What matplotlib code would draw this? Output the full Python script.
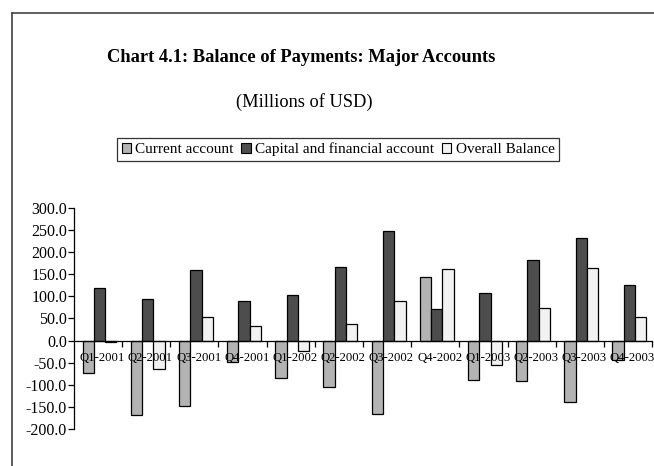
import numpy as np
import matplotlib.pyplot as plt
from matplotlib.lines import Line2D
from matplotlib.patches import Patch

plt.rcParams['font.family'] = 'Liberation Serif'
plt.rcParams['axes.unicode_minus'] = False

quarters = ['Q1-2001', 'Q2-2001', 'Q3-2001', 'Q4-2001', 'Q1-2002', 'Q2-2002',
            'Q3-2002', 'Q4-2002', 'Q1-2003', 'Q2-2003', 'Q3-2003', 'Q4-2003']
current = [-74, -168, -148, -49, -85, -104, -166, 144, -88, -90, -138, -43]
capital = [118, 95, 159, 89, 102, 166, 248, 72, 107, 183, 232, 125]
overall = [-2, -65, 54, 32, -23, 38, 89, 162, -55, 74, 164, 54]
series_names = ['Current account', 'Capital and financial account', 'Overall Balance']
colors = ['#b3b3b3', '#4d4d4d', '#f2f2f2']

fig = plt.figure(figsize=(6.54, 4.66), dpi=100)
ax = fig.add_axes([0.1131, 0.0788, 0.8839, 0.4755])

x = np.arange(len(quarters))
w = 0.235
for i, vals in enumerate([current, capital, overall]):
    ax.bar(x + 0.03 + (i - 1) * w, vals, width=w, color=colors[i],
           edgecolor='black', linewidth=0.9, zorder=2)

ax.set_xlim(-0.5, len(quarters) - 0.5)
ax.set_ylim(-200, 300)
ax.set_yticks(np.arange(-200, 301, 50))
ax.set_yticklabels([f'{v:.1f}' for v in np.arange(-200, 301, 50)], fontsize=11.5)
ax.tick_params(axis='y', direction='out', length=4, width=0.9, pad=1)

ax.spines['top'].set_visible(False)
ax.spines['right'].set_visible(False)
ax.spines['bottom'].set_position(('data', 0))
ax.spines['bottom'].set_zorder(3)
ax.spines['left'].set_linewidth(0.9)
ax.spines['bottom'].set_linewidth(0.9)

ax.set_xticks(x + 0.09)
ax.set_xticklabels(quarters, fontsize=9.2)
ax.tick_params(axis='x', which='major', length=0, pad=8)
ax.set_xticks(np.arange(0.5, len(quarters), 1), minor=True)
ax.tick_params(axis='x', which='minor', direction='out', length=4, width=0.9)
ax.xaxis.set_zorder(5)

fig.text(107 / 654, 1 - 58 / 466, 'Chart 4.1: Balance of Payments: Major Accounts',
         fontsize=13.3, fontweight='bold', ha='left', va='center')
fig.text(304 / 654, 1 - 102 / 466, '(Millions of USD)', fontsize=13.2,
         ha='center', va='center')

handles = [Patch(facecolor=c, edgecolor='black', linewidth=0.8) for c in colors]
leg = fig.legend(handles, series_names, loc='center', ncol=3,
                 bbox_to_anchor=(338 / 654, 1 - 149.5 / 466), fontsize=11,
                 frameon=True, fancybox=False, handlelength=0.6, handleheight=0.6,
                 handletextpad=0.3, columnspacing=0.5, borderpad=0.3,
                 borderaxespad=0)
leg.get_frame().set_edgecolor('black')
leg.get_frame().set_linewidth(0.9)

# outer frame
fig.add_artist(Line2D([12 / 654, 12 / 654], [0, 1 - 13 / 466], color='#444444', linewidth=1.2))
fig.add_artist(Line2D([12 / 654, 1], [1 - 13 / 466, 1 - 13 / 466], color='#444444', linewidth=1.2))

fig.savefig('out.png', dpi=100)
